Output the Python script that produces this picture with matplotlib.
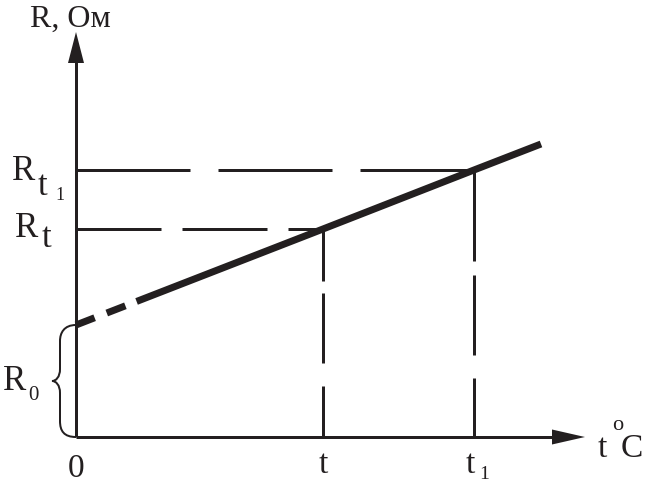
import matplotlib
matplotlib.use("Agg")
import matplotlib.pyplot as plt
from matplotlib.path import Path
from matplotlib.patches import PathPatch

# schematic values (pixel-like units, origin at the axes corner)
t_line = [0, 247, 398, 465]        # 0, t, t1, line end
R_line = [112, 208, 267, 293]      # R0, Rt, Rt1, line end
t_marks = [247, 398]               # t, t1
R_marks = [208, 267]               # Rt, Rt1
R0 = 112
x_arrow_tip = 509
y_arrow_tip = 405

INK = "#231f20"
PX = 0.72  # one pixel in points at dpi 100

plt.rcParams["lines.scale_dashes"] = False
plt.rcParams["font.family"] = ["Liberation Serif", "DejaVu Serif"]

fig = plt.figure(figsize=(6.45, 4.83), dpi=100)
ax = fig.add_axes([0, 0, 1, 1])
ax.set_xlim(-76, 569)
ax.set_ylim(-46, 437)
ax.axis("off")

# axes with arrowheads
ax.plot([0, 0], [0, y_arrow_tip - 25], color=INK, lw=3 * PX, solid_capstyle="butt")
ax.plot([0, x_arrow_tip - 25], [0, 0], color=INK, lw=3 * PX, solid_capstyle="butt")
ax.fill([-8, 0, 8], [y_arrow_tip - 31, y_arrow_tip, y_arrow_tip - 31], color=INK, lw=0)
ax.fill([x_arrow_tip - 33, x_arrow_tip, x_arrow_tip - 33], [-7.5, 0, 7.5], color=INK, lw=0)

# guide lines for Rt and Rt1
h_dashes = [(0, (85 * PX, 21 * PX)), (0, (114 * PX, 28 * PX))]
v_dashes = [(0, (52 * PX, 12 * PX, 70 * PX, 23 * PX, 200 * PX, 1)),
            (0, (91 * PX, 14 * PX, 80 * PX, 23 * PX, 200 * PX, 1))]
for tm, rm, hd, vd in zip(t_marks, R_marks, h_dashes, v_dashes):
    ax.plot([0, tm], [rm, rm], color=INK, lw=3 * PX, ls=hd, dash_capstyle="butt")
    ax.plot([tm, tm], [rm, 0], color=INK, lw=3 * PX, ls=vd, dash_capstyle="butt")

# R(t) line, dashed near zero
ax.plot(t_line, R_line, color=INK, lw=7 * PX,
        ls=(0, (20 * PX, 13 * PX, 20 * PX, 12 * PX, 900 * PX, 1)),
        dash_capstyle="butt", solid_capstyle="butt", zorder=3)

# curly brace for R0
m = R0 / 2
verts = [(0, R0),
         (-12, R0), (-16, R0 - 8), (-16, R0 - 16),
         (-16, m + 12),
         (-16, m + 4), (-20, m), (-24, m),
         (-20, m), (-16, m - 4), (-16, m - 12),
         (-16, 16),
         (-16, 6), (-12, 0), (0, 0)]
codes = [Path.MOVETO,
         Path.CURVE4, Path.CURVE4, Path.CURVE4,
         Path.LINETO,
         Path.CURVE4, Path.CURVE4, Path.CURVE4,
         Path.CURVE4, Path.CURVE4, Path.CURVE4,
         Path.LINETO,
         Path.CURVE4, Path.CURVE4, Path.CURVE4]
ax.add_patch(PathPatch(Path(verts, codes), fill=False, color=INK, lw=2 * PX))

# labels
kw = dict(color=INK, va="baseline")
ax.text(-46, 410, "R, Ом", fontsize=23, ha="left", **kw)

ax.text(-64, 257, "R", fontsize=25, ha="left", **kw)
ax.text(-38, 242, "t", fontsize=25, ha="left", **kw)
ax.text(-21, 237, "1", fontsize=13, ha="left", **kw)

ax.text(-61, 200, "R", fontsize=25, ha="left", **kw)
ax.text(-34, 190, "t", fontsize=25, ha="left", **kw)

ax.text(-73, 47, "R", fontsize=25, ha="left", **kw)
ax.text(-48, 37, "0", fontsize=15, ha="left", **kw)

ax.text(0, -40, "0", fontsize=24, ha="center", **kw)
ax.text(t_marks[0], -36, "t", fontsize=24, ha="center", **kw)
ax.text(t_marks[1] - 4, -36, "t", fontsize=24, ha="center", **kw)
ax.text(t_marks[1] + 5, -42, "1", fontsize=14, ha="left", **kw)

ax.text(522, -20, "t", fontsize=24, ha="left", **kw)
ax.text(536, 7, "o", fontsize=16, ha="left", **kw)
ax.text(545, -20, "C", fontsize=24, ha="left", **kw)

fig.savefig("out.png", dpi=100)
